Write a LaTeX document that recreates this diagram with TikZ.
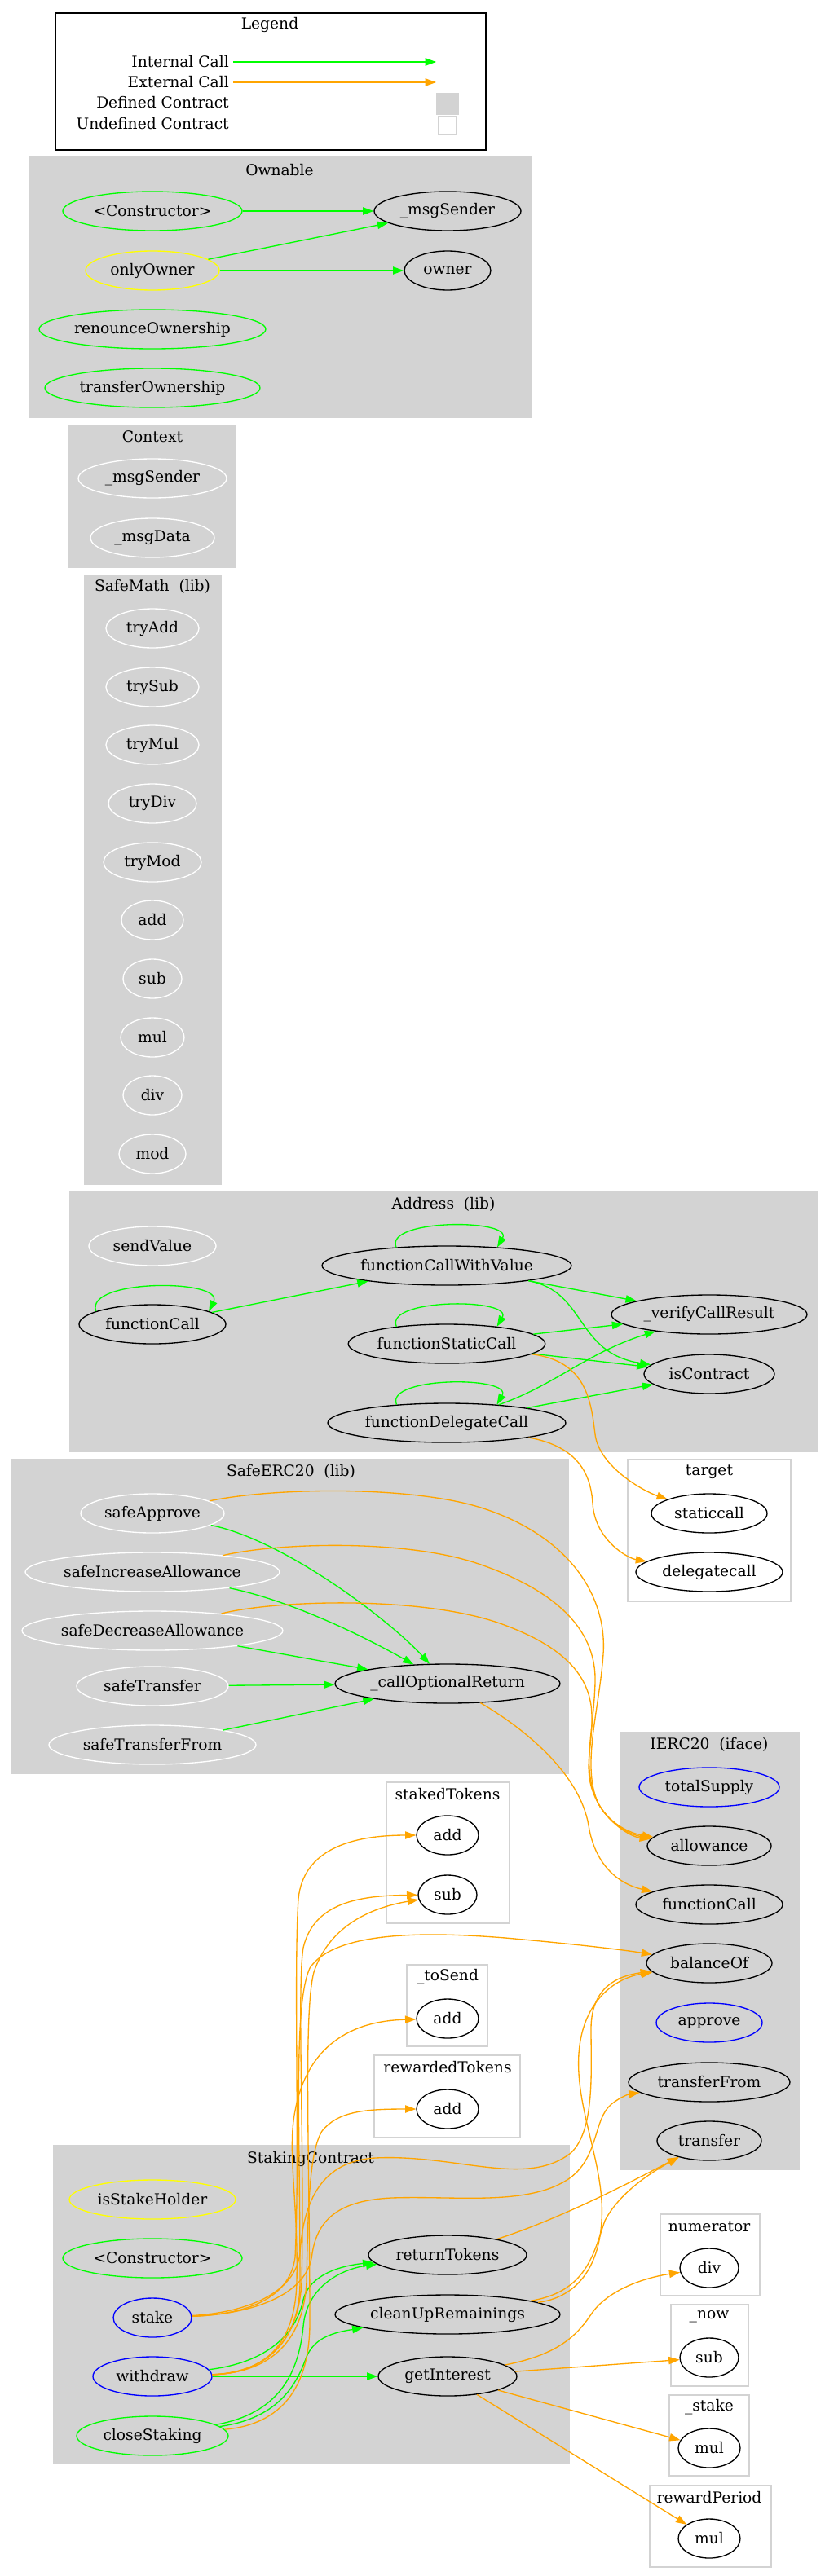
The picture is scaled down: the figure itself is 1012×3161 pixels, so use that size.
\documentclass[tikz,border=0pt]{standalone}
\usepackage{fontspec}
\setmainfont{DejaVu Serif}
\usetikzlibrary{shapes.geometric,arrows.meta}

\begin{document}
\begin{tikzpicture}[x=0.75pt, y=-0.75pt,
        every node/.style={font=\fontsize{14}{16}\selectfont, inner sep=0pt},
        fn/.style={ellipse, draw=black, line width=1pt, minimum height=36pt, minimum width=#1*1.5pt},
        fn/.default=60,
        intcall/.style={draw=gvgreen, line width=1pt, -{Triangle[length=10pt, width=7pt]}},
        extcall/.style={draw=gvorange, line width=1pt, -{Triangle[length=10pt, width=7pt]}},
        defbox/.style={fill=gvgray, draw=gvgray, line width=1pt},
        undefbox/.style={fill=white, draw=gvgray, line width=1pt}]
        \definecolor{gvgreen}{RGB}{0,255,0}
        \definecolor{gvorange}{RGB}{255,165,0}
        \definecolor{gvgray}{RGB}{211,211,211}
        \definecolor{gvyellow}{RGB}{255,255,0}
        \definecolor{gvblue}{RGB}{0,0,255}

        \useasboundingbox (0,0) rectangle (1012,3161);

        % Legend
        \draw[line width=1pt] (68,16) rectangle (596,184);
        \node (lgtitle) at (331,30) {Legend};
        \node[anchor=east] (lgint) at (281,76) {Internal Call};
        \node[anchor=east] (lgext) at (281,101) {External Call};
        \node[anchor=east] (lgdef) at (281,126) {Defined Contract};
        \node[anchor=east] (lgundef) at (281,152) {Undefined Contract};
        \coordinate (lgintA) at (286,76);
        \coordinate (lgintB) at (535,76);
        \coordinate (lgextA) at (286,101);
        \coordinate (lgextB) at (535,101);
        \draw[intcall] (lgintA) -- (lgintB);
        \draw[extcall] (lgextA) -- (lgextB);
        \draw[defbox] (536,115) rectangle (562,140);
        \draw[undefbox] (538,143) rectangle (560,165);

        % Cluster boxes and their titles
        \draw[defbox] (37,193) rectangle (651,512);
        \node (ownable) at (343,209) {Ownable};
        \draw[defbox] (85,522) rectangle (289,696);
        \node (context) at (187,536) {Context};
        \draw[defbox] (104,706) rectangle (271,1453);
        \node (safemath) at (187,720) {SafeMath\ \ (lib)};
        \draw[defbox] (86,1463) rectangle (1002,1781);
        \node (address) at (544,1478) {Address\ \ (lib)};
        \draw[defbox] (15,1791) rectangle (697,2176);
        \node (safeerc) at (357,1806) {SafeERC20\ \ (lib)};
        \draw[undefbox] (770,1791) rectangle (970,1965);
        \node (target) at (870,1806) {target};
        \draw[defbox] (761,2126) rectangle (980,2662);
        \node (ierc) at (870,2141) {IERC20\ \ (iface)};
        \draw[undefbox] (474,2187) rectangle (625,2360);
        \node (stakedtokens) at (549,2202) {stakedTokens};
        \draw[undefbox] (499,2411) rectangle (598,2511);
        \node (tosend) at (549,2426) {\_toSend};
        \draw[undefbox] (459,2522) rectangle (638,2623);
        \node (rewardedtokens) at (549,2537) {rewardedTokens};
        \draw[defbox] (66,2633) rectangle (698,3023);
        \node (staking) at (381,2649) {StakingContract};
        \draw[undefbox] (810,2717) rectangle (932,2817);
        \node (numerator) at (870,2732) {numerator};
        \draw[undefbox] (823,2828) rectangle (918,2928);
        \node (now) at (870,2843) {\_now};
        \draw[undefbox] (821,2939) rectangle (919,3038);
        \node (stakevar) at (870,2954) {\_stake};
        \draw[undefbox] (797,3050) rectangle (946,3150);
        \node (rewardperiod) at (870,3065) {rewardPeriod};

        % Ownable
        \node[fn=110, draw=gvgreen] (oCtor) at (187,259) {<Constructor>};
        \node[fn=90] (oMsgSender) at (549,259) {\_msgSender};
        \node[fn=82, draw=gvyellow] (oOnlyOwner) at (187,332) {onlyOwner};
        \node[fn=53] (oOwner) at (549,332) {owner};
        \node[fn=139, draw=gvgreen] (oRenounce) at (187,404) {renounceOwnership};
        \node[fn=132, draw=gvgreen] (oTransfer) at (187,476) {transferOwnership};

        % Context
        \node[fn=91, draw=white] (cMsgSender) at (187,587) {\_msgSender};
        \node[fn=76, draw=white] (cMsgData) at (187,660) {\_msgData};

        % SafeMath
        \node[fn=57, draw=white] (mTryAdd) at (187,771) {tryAdd};
        \node[fn=57, draw=white] (mTrySub) at (187,843) {trySub};
        \node[fn=57, draw=white] (mTryMul) at (187,914) {tryMul};
        \node[fn=54, draw=white] (mTryDiv) at (187,986) {tryDiv};
        \node[fn=60, draw=white] (mTryMod) at (187,1058) {tryMod};
        \node[fn=38, draw=white] (mAdd) at (187,1129) {add};
        \node[fn=36, draw=white] (mSub) at (187,1201) {sub};
        \node[fn=39, draw=white] (mMul) at (187,1273) {mul};
        \node[fn=36, draw=white] (mDiv) at (187,1344) {div};
        \node[fn=41, draw=white] (mMod) at (187,1416) {mod};

        % Address
        \node[fn=78, draw=white] (aSendValue) at (187,1529) {sendValue};
        \node[fn=153] (aFcwv) at (548,1553) {functionCallWithValue};
        \node[fn=90] (aFcall) at (187,1625) {functionCall};
        \node[fn=120] (aVerify) at (870,1613) {\_verifyCallResult};
        \node[fn=118] (aFsc) at (548,1649) {functionStaticCall};
        \node[fn=80] (aIsc) at (870,1686) {isContract};
        \node[fn=146] (aFdc) at (548,1746) {functionDelegateCall};

        % target
        \node[fn=71] (tStaticcall) at (870,1857) {staticcall};
        \node[fn=90] (tDelegatecall) at (870,1929) {delegatecall};

        % SafeERC20
        \node[fn=88, draw=white] (sApprove) at (187,1857) {safeApprove};
        \node[fn=156, draw=white] (sIncrease) at (187,1929) {safeIncreaseAllowance};
        \node[fn=160, draw=white] (sDecrease) at (187,2001) {safeDecreaseAllowance};
        \node[fn=93, draw=white] (sTransfer) at (187,2069) {safeTransfer};
        \node[fn=127, draw=white] (sTransferFrom) at (187,2141) {safeTransferFrom};
        \node[fn=138] (sCallOpt) at (549,2066) {\_callOptionalReturn};

        % IERC20
        \node[fn=86, draw=gvblue] (iTotalSupply) at (870,2193) {totalSupply};
        \node[fn=76] (iAllowance) at (870,2265) {allowance};
        \node[fn=90] (iFunctionCall) at (870,2337) {functionCall};
        \node[fn=77] (iBalanceOf) at (870,2409) {balanceOf};
        \node[fn=65, draw=gvblue] (iApprove) at (870,2482) {approve};
        \node[fn=99] (iTransferFrom) at (870,2555) {transferFrom};
        \node[fn=64] (iTransfer) at (870,2627) {transfer};

        % Undefined members used by StakingContract
        \node[fn=38] (stAdd) at (549,2252) {add};
        \node[fn=36] (stSub) at (549,2325) {sub};
        \node[fn=38] (tsAdd) at (549,2477) {add};
        \node[fn=38] (rtAdd) at (549,2588) {add};
        \node[fn=36] (nDiv) at (870,2783) {div};
        \node[fn=36] (nowSub) at (870,2893) {sub};
        \node[fn=38] (skMul) at (870,3004) {mul};
        \node[fn=38] (rpMul) at (870,3115) {mul};

        % StakingContract
        \node[fn=102, draw=gvyellow] (scIsStakeHolder) at (187,2699) {isStakeHolder};
        \node[fn=110, draw=gvgreen] (scCtor) at (187,2771) {<Constructor>};
        \node[fn=48, draw=gvblue] (scStake) at (187,2844) {stake};
        \node[fn=73, draw=gvblue] (scWithdraw) at (187,2916) {withdraw};
        \node[fn=93, draw=gvgreen] (scCloseStaking) at (187,2989) {closeStaking};
        \node[fn=97] (scReturnTokens) at (549,2767) {returnTokens};
        \node[fn=138] (scCleanUp) at (549,2840) {cleanUpRemainings};
        \node[fn=85] (scGetInterest) at (549,2916) {getInterest};

        % Ownable calls
        \draw[intcall] (oCtor) -- (oMsgSender);
        \draw[intcall] (oOnlyOwner) -- (oMsgSender);
        \draw[intcall] (oOnlyOwner) -- (oOwner);

        % Address calls
        \draw[intcall] (aFcwv.160) .. controls +(-15,-35) and +(20,-35) .. (aFcwv.20);
        \draw[intcall] (aFcall.167) .. controls +(-15,-40) and +(20,-40) .. (aFcall.13);
        \draw[intcall] (aFsc.161) .. controls +(-15,-35) and +(20,-35) .. (aFsc.19);
        \draw[intcall] (aFdc.160) .. controls +(-15,-35) and +(20,-35) .. (aFdc.20);
        \draw[intcall] (aFcall) -- (aFcwv);
        \draw[intcall] (aFcwv) -- (aVerify);
        \draw[intcall] (aFcwv) .. controls (720,1585) and (705,1660) .. (aIsc);
        \draw[intcall] (aFsc) -- (aVerify);
        \draw[intcall] (aFsc) -- (aIsc);
        \draw[intcall] (aFdc) .. controls (680,1700) and (720,1660) .. (aVerify);
        \draw[intcall] (aFdc) -- (aIsc);
        \draw[extcall] (aFsc) .. controls (720,1670) and (725,1720) .. (730,1760) .. controls (735,1800) and (790,1830) .. (tStaticcall);
        \draw[extcall] (aFdc) .. controls (710,1775) and (725,1810) .. (727,1845) .. controls (730,1890) and (770,1912) .. (tDelegatecall);

        % SafeERC20 calls
        \draw[intcall] (sApprove) .. controls (350,1890) and (480,1990) .. (sCallOpt);
        \draw[intcall] (sIncrease) .. controls (360,1965) and (450,2010) .. (sCallOpt);
        \draw[intcall] (sDecrease) -- (sCallOpt);
        \draw[intcall] (sTransfer) -- (sCallOpt);
        \draw[intcall] (sTransferFrom) -- (sCallOpt);
        \draw[extcall] (sApprove) .. controls (330,1826) and (500,1822) .. (590,1850) .. controls (700,1885) and (745,1960) .. (740,2030) .. controls (735,2100) and (712,2170) .. (735,2215) .. controls (750,2240) and (775,2250) .. (iAllowance);
        \draw[extcall] (sIncrease) .. controls (340,1893) and (500,1888) .. (590,1920) .. controls (690,1955) and (732,2005) .. (730,2065) .. controls (728,2130) and (712,2172) .. (735,2215) .. controls (750,2240) and (775,2252) .. (iAllowance);
        \draw[extcall] (sDecrease) .. controls (340,1963) and (520,1958) .. (616,1993) .. controls (690,2020) and (725,2055) .. (726,2105) .. controls (727,2150) and (712,2175) .. (735,2215) .. controls (750,2240) and (775,2254) .. (iAllowance);
        \draw[extcall] (sCallOpt) .. controls (650,2125) and (712,2180) .. (722,2240) .. controls (730,2290) and (760,2312) .. (iFunctionCall);

        % StakingContract internal calls
        \draw[intcall] (scWithdraw) -- (scGetInterest);
        \draw[intcall] (scWithdraw) .. controls (320,2900) and (362,2870) .. (372,2822) .. controls (380,2790) and (420,2780) .. (scReturnTokens);
        \draw[intcall] (scCloseStaking) .. controls (340,2962) and (366,2915) .. (372,2855) .. controls (376,2805) and (420,2784) .. (scReturnTokens);
        \draw[intcall] (scCloseStaking) .. controls (345,2967) and (365,2922) .. (376,2892) .. controls (386,2868) and (410,2862) .. (scCleanUp);

        % StakingContract external calls
        \draw[extcall] (scStake) .. controls (300,2840) and (355,2822) .. (362,2770) .. controls (368,2650) and (360,2420) .. (366,2330) .. controls (372,2270) and (430,2252) .. (stAdd);
        \draw[extcall] (scStake) .. controls (300,2838) and (362,2815) .. (368,2765) .. controls (372,2700) and (395,2652) .. (460,2648) .. controls (560,2643) and (645,2685) .. (700,2642) .. controls (730,2615) and (725,2540) .. (725,2490) .. controls (725,2440) and (755,2425) .. (iBalanceOf);
        \draw[extcall] (scStake) .. controls (305,2840) and (378,2818) .. (383,2765) .. controls (390,2720) and (420,2700) .. (480,2697) .. controls (560,2694) and (650,2708) .. (700,2672) .. controls (735,2645) and (728,2600) .. (750,2582) .. controls (760,2574) and (770,2570) .. (iTransferFrom);
        \draw[extcall] (scWithdraw) .. controls (320,2912) and (366,2880) .. (370,2800) .. controls (374,2650) and (364,2440) .. (372,2390) .. controls (385,2335) and (440,2326) .. (stSub);
        \draw[extcall] (scWithdraw) .. controls (322,2912) and (362,2880) .. (364,2800) .. controls (366,2700) and (352,2640) .. (362,2590) .. controls (375,2520) and (420,2480) .. (tsAdd);
        \draw[extcall] (scWithdraw) .. controls (324,2912) and (372,2880) .. (376,2800) .. controls (378,2700) and (380,2640) .. (395,2615) .. controls (415,2590) and (450,2588) .. (rtAdd);
        \draw[extcall] (scWithdraw) .. controls (318,2912) and (368,2880) .. (368,2800) .. controls (368,2600) and (360,2460) .. (380,2415) .. controls (410,2370) and (520,2370) .. (620,2378) .. controls (700,2385) and (760,2392) .. (iBalanceOf);
        \draw[extcall] (scCloseStaking) .. controls (345,2975) and (380,2930) .. (380,2850) .. controls (380,2650) and (372,2470) .. (385,2420) .. controls (405,2360) and (460,2340) .. (stSub);
        \draw[extcall] (scReturnTokens) .. controls (680,2725) and (760,2685) .. (iTransfer);
        \draw[extcall] (scCleanUp) .. controls (720,2812) and (728,2765) .. (742,2725) .. controls (760,2690) and (800,2665) .. (iTransfer);
        \draw[extcall] (scCleanUp) .. controls (715,2818) and (742,2770) .. (738,2700) .. controls (734,2640) and (706,2580) .. (710,2520) .. controls (714,2460) and (750,2428) .. (iBalanceOf);
        \draw[extcall] (scGetInterest) .. controls (680,2890) and (705,2870) .. (725,2840) .. controls (745,2810) and (790,2795) .. (nDiv);
        \draw[extcall] (scGetInterest) -- (nowSub);
        \draw[extcall] (scGetInterest) -- (skMul);
        \draw[extcall] (scGetInterest) -- (rpMul);
    \end{tikzpicture}
\end{document}
